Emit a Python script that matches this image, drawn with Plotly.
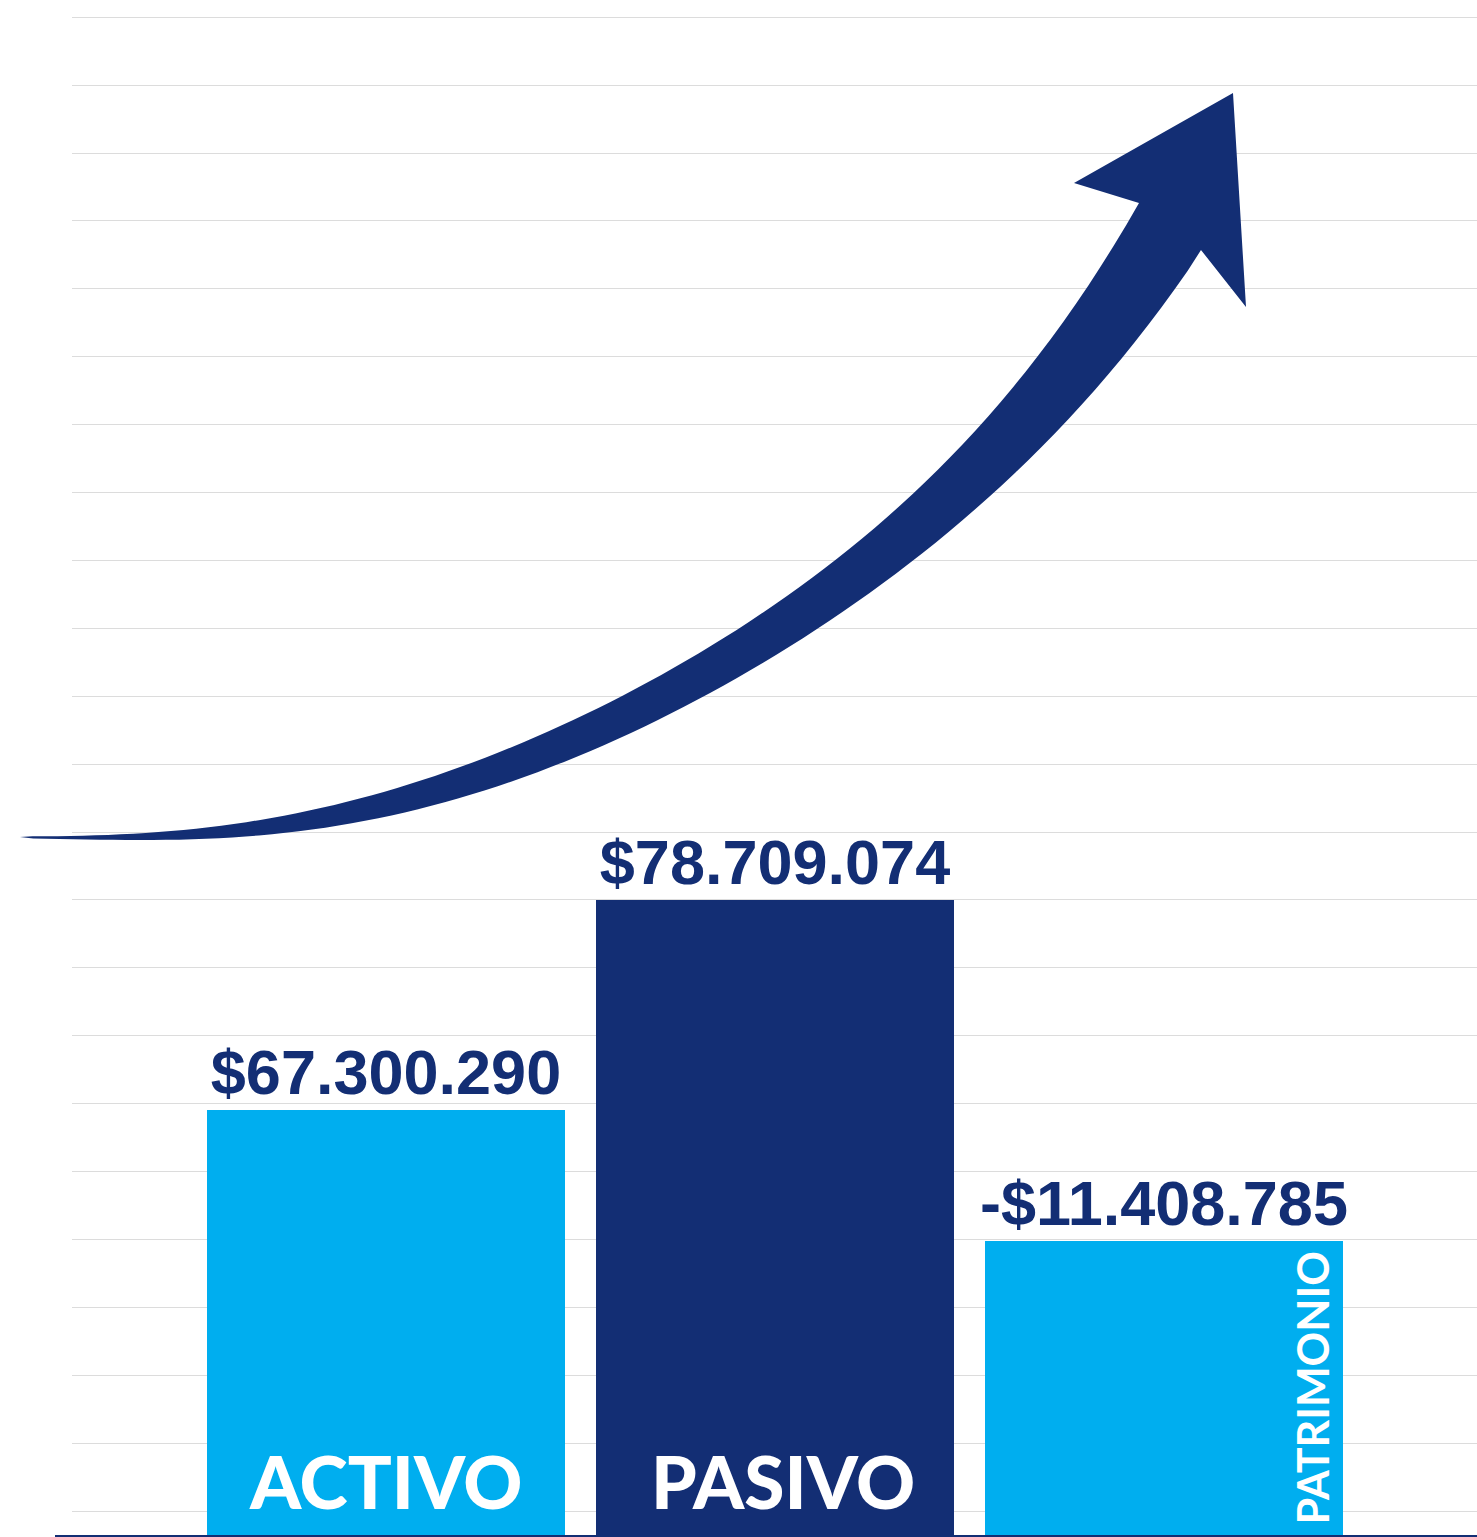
import numpy as np
import plotly.graph_objects as go

# ---------------- data ----------------
categories = ["ACTIVO", "PASIVO", "PATRIMONIO"]
values = [67300290, 78709074, -11408785]          # amounts shown in the labels
bar_heights = [6.26, 9.35, 4.33]                  # drawn height, in grid units (as pictured)
bar_colors = ["#00AEEF", "#132E74", "#00AEEF"]
label_angles = [0, 0, -90]
label_sizes = [73, 73, 43]
label_xshift = [0, 8, 148]

NAVY = "#132E74"
W, H = 1477, 1537


def fmt(v):
    s = f"{abs(v):,}".replace(",", ".")
    return ("-$" if v < 0 else "$") + s


value_labels = [fmt(v) for v in values]

fig = go.Figure()
fig.add_trace(go.Bar(
    x=categories, y=bar_heights,
    marker=dict(color=bar_colors, line=dict(width=0)),
    width=0.92,
    text=value_labels, textposition="outside",
    textfont=dict(family="Liberation Sans, Arial", size=63, color=NAVY, weight="bold"),
    constraintext="none", cliponaxis=False, hoverinfo="skip",
))

# category names inside bars
for cat, ang, sz, xs in zip(categories, label_angles, label_sizes, label_xshift):
    fig.add_annotation(x=cat, y=0, yanchor="bottom", xanchor="center", text=cat,
                       textangle=ang, showarrow=False, xshift=xs, yshift=8,
                       font=dict(family="Lato", size=sz, color="white",
                                 weight=900 if ang == 0 else "bold"))

# ---------------- decorative arrow (smoothed outline, pixel space) ----------------
upper = [(20, 837), (73, 835), (200, 828), (300, 813), (400, 787), (470, 765), (613, 698),
         (733, 632), (830, 565), (912, 497), (984, 422), (1033, 357), (1087, 290), (1139, 203)]
lower = [(20, 837), (67, 840), (150, 842), (300, 829), (400, 812), (563, 765), (700, 698),
         (817, 632), (902, 565), (987, 497), (1066, 422), (1127, 357), (1173, 290), (1201, 250)]
head = [(1074, 183), (1233, 93), (1246, 307), (1201, 250)]


def smooth_edge(pts, n=90, deg=5):
    xs = np.array([p[0] for p in pts], float)
    ys = np.array([p[1] for p in pts], float)
    coef = np.polyfit(xs, ys, deg)
    gx = np.linspace(xs[0], xs[-1], n)
    gy = np.polyval(coef, gx)
    gy[0], gy[-1] = ys[0], ys[-1]
    return list(zip(gx, gy))


def P(p):
    return f"{p[0] / W:.5f},{1 - p[1] / H:.5f}"


up = smooth_edge(upper)
lo = smooth_edge(lower)
outline = up + head[:-1] + list(reversed(lo))
path = "M " + " L ".join(P(p) for p in outline) + " Z"

fig.add_shape(type="path", path=path, xref="paper", yref="paper",
              fillcolor=NAVY, line=dict(width=0), layer="above")

# bottom base line
fig.add_shape(type="line", xref="paper", yref="paper", x0=55 / W, x1=1, y0=1 / H, y1=1 / H,
              line=dict(color=NAVY, width=2))

unit = 67.9
fig.update_layout(
    width=W, height=H,
    margin=dict(l=0, r=0, t=0, b=0),
    paper_bgcolor="white", plot_bgcolor="white",
    showlegend=False, bargap=0,
    xaxis=dict(domain=[72 / W, 1], range=[(72 - 386) / 389, (W - 386) / 389],
               showticklabels=False, showgrid=False, zeroline=False, fixedrange=True),
    yaxis=dict(range=[-2 / unit, 1535 / unit], tick0=24 / unit, dtick=1,
               showticklabels=False, showgrid=True, gridcolor="#dcdcdc", gridwidth=1,
               zeroline=False, fixedrange=True),
)

fig.write_html("out.html", config={"displayModeBar": False},
               post_script="document.body.style.margin='0';document.body.style.overflow='hidden';")
